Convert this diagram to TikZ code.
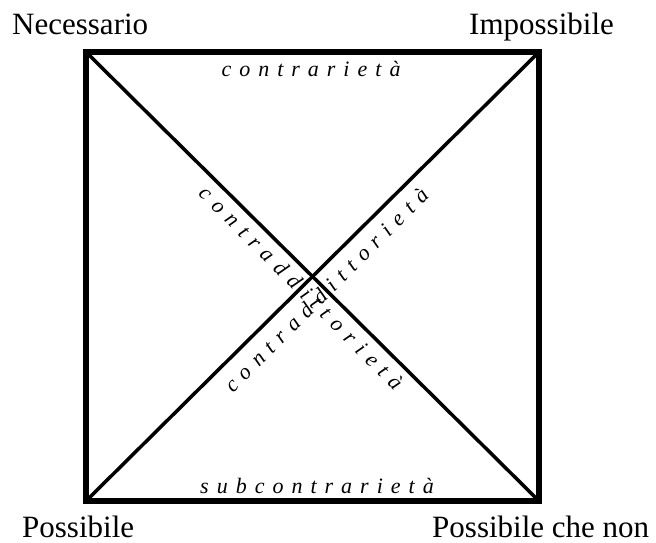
\documentclass[tikz,border=0pt]{standalone}
\usepackage{fontspec}
\setmainfont{Liberation Serif}[ItalicFont={Liberation Serif Italic}]
\newcommand{\lsp}{\hspace{8pt}}
\begin{document}
\begin{tikzpicture}[x=1pt,y=-1pt,
  corner/.style={font=\fontsize{31}{34}\selectfont, inner sep=0pt, anchor=base west},
  rel/.style={font=\fontsize{22}{24}\selectfont\itshape, inner sep=0pt, anchor=base},
  side/.style={line width=6pt},
  diag/.style={line width=3.5pt}]
\useasboundingbox (0,0) rectangle (656,543);
\coordinate (N) at (86,52);
\coordinate (I) at (539,52);
\coordinate (PN) at (539,501);
\coordinate (P) at (86,501);
\draw[side] (N) -- (I) -- (PN) -- (P) -- cycle;
\draw[diag] (N) -- (PN);
\draw[diag] (P) -- (I);
\node[corner] (tN) at (12,35) {Necessario};
\node[corner] (tI) at (469,35) {Impossibile};
\node[corner] (tP) at (22,537) {Possibile};
\node[corner] (tPN) at (432,537) {Possibile che non};
\node[rel] (ctr) at (311,77) {c\lsp o\lsp n\lsp t\lsp r\lsp a\lsp r\lsp i\lsp e\lsp t\lsp à};
\node[rel] (sub) at (317,493) {s\lsp u\lsp b\lsp c\lsp o\lsp n\lsp t\lsp r\lsp a\lsp r\lsp i\lsp e\lsp t\lsp à};
\node[rel, rotate=-45] (cdA) at (296,293) {c\lsp o\lsp n\lsp t\lsp r\lsp a\lsp d\lsp d\lsp i\lsp t\lsp t\lsp o\lsp r\lsp i\lsp e\lsp t\lsp à};
\node[rel, rotate=45] (cdB) at (331.5,295.5) {c\lsp o\lsp n\lsp t\lsp r\lsp a\lsp d\lsp d\lsp i\lsp t\lsp t\lsp o\lsp r\lsp i\lsp e\lsp t\lsp à};
\end{tikzpicture}
\end{document}
